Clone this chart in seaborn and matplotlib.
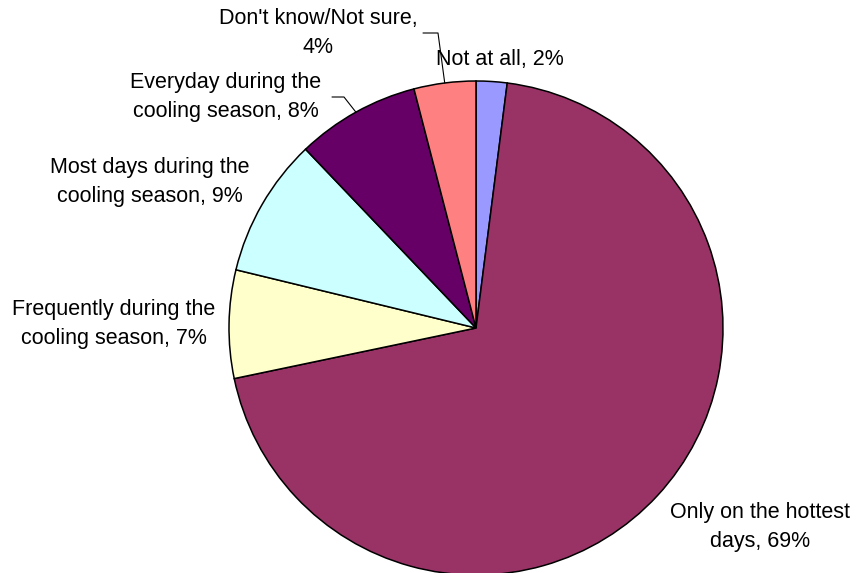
import numpy as np
import matplotlib
matplotlib.use("Agg")
import matplotlib.pyplot as plt
import seaborn as sns

categories = [
    "Not at all",
    "Only on the hottest\ndays",
    "Frequently during the\ncooling season",
    "Most days during the\ncooling season",
    "Everyday during the\ncooling season",
    "Don't know/Not sure",
]
shares = [2, 69, 7, 9, 8, 4]
colors = ["#9999FF", "#993366", "#FFFFCC", "#CCFFFF", "#660066", "#FF8080"]

sns.set_theme(style="white")
plt.rcParams["font.family"] = ["Liberation Sans", "DejaVu Sans"]

W, H, DPI = 856, 573, 100
fig = plt.figure(figsize=(W / DPI, H / DPI), dpi=DPI)
ax = fig.add_axes([0, 0, 1, 1])

# pie geometry in pixels: centre and radius
cx, cy, R = 476, 328, 247

wedges, _ = ax.pie(
    shares, colors=colors, startangle=90, counterclock=False,
    wedgeprops=dict(edgecolor="black", linewidth=1.1), radius=1.0,
)
ax.set_xlim(-cx / R, (W - cx) / R)
ax.set_ylim(-(H - cy) / R, cy / R)
ax.set_aspect("equal")
ax.axis("off")


def px(x, y):
    return (x - cx) / R, (cy - y) / R


def label_for(cat, val):
    if cat == "Don't know/Not sure":
        return f"{cat},\n{val}%"
    return f"{cat}, {val}%"


label_pos = [(500, 59), (760, 527), (114, 324), (150, 182), (226, 97), (318, 33)]

for cat, val, (lx, ly) in zip(categories, shares, label_pos):
    x, y = px(lx, ly)
    ax.text(x, y, label_for(cat, val), ha="center", va="center",
            multialignment="center", fontsize=15.5, color="black",
            linespacing=1.45)


def edge_point(w):
    mid = np.deg2rad((w.theta1 + w.theta2) / 2)
    return np.cos(mid), np.sin(mid)


# leader lines for the two small top slices
for w, elbow, end in [(wedges[5], (438, 33), (423, 33)),
                      (wedges[4], (344, 97), (332, 97))]:
    ex, ey = edge_point(w)
    bx, by = px(*elbow)
    tx, ty = px(*end)
    ax.plot([ex, bx, tx], [ey, by, ty], color="black", lw=0.8)

fig.savefig("out.png", dpi=DPI, facecolor="white")
